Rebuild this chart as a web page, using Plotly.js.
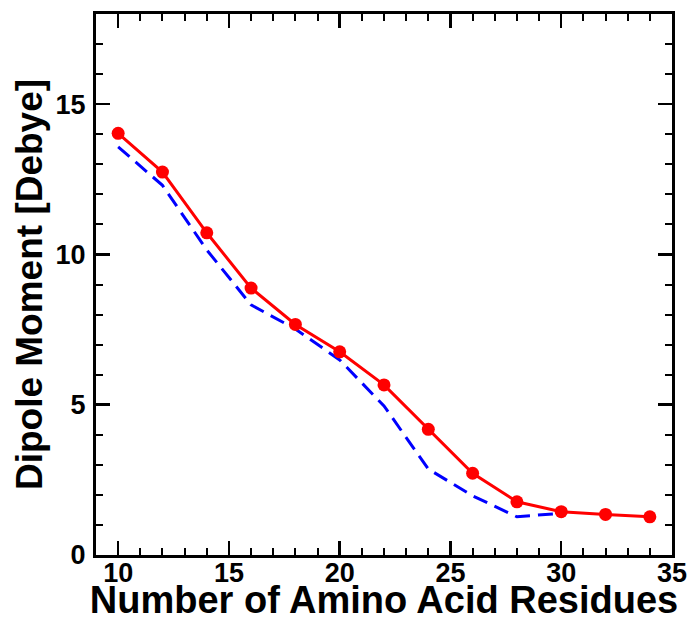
<!DOCTYPE html>
<html>
<head>
<meta charset="utf-8">
<script src="https://cdn.plot.ly/plotly-3.0.1.min.js"></script>
<style>html,body{margin:0;padding:0;background:#fff;}#chart{width:691px;height:621px;}</style>
</head>
<body>
<div id="chart"></div>
<script>
var residues = [10, 12, 14, 16, 18, 20, 22, 24, 26, 28, 30, 32, 34];
var dipoleRed = [14.03, 12.74, 10.72, 8.88, 7.67, 6.76, 5.66, 4.18, 2.72, 1.77, 1.44, 1.35, 1.27];
var residuesBlue = [10, 12, 14, 16, 18, 20, 22, 24, 26, 28, 30];
var dipoleBlue = [13.58, 12.3, 10.15, 8.32, 7.52, 6.49, 4.96, 2.86, 1.97, 1.27, 1.39];
var xTicks = [10, 15, 20, 25, 30, 35];
var yTicks = [0, 5, 10, 15];

var fontFam = 'Liberation Sans, Arial, Helvetica, sans-serif';

var traces = [
  {
    x: residuesBlue, y: dipoleBlue, type: 'scatter', mode: 'lines',
    line: {color: 'rgb(0,0,255)', width: 3, dash: '15px,8px'},
    hoverinfo: 'skip', showlegend: false
  },
  {
    x: residues, y: dipoleRed, type: 'scatter', mode: 'lines+markers',
    line: {color: 'rgb(255,0,0)', width: 3},
    marker: {color: 'rgb(255,0,0)', size: 13},
    showlegend: false
  }
];

var axisCommon = {
  showline: true, linecolor: '#000', linewidth: 3, mirror: 'allticks',
  ticks: 'inside', ticklen: 14, tickwidth: 2.5, tickcolor: '#000',
  showgrid: false, zeroline: false,
  tickfont: {family: fontFam, size: 27, color: '#000', weight: 'bold'},
  minor: {dtick: 1, ticks: 'inside', ticklen: 7, tickwidth: 2, tickcolor: '#000', showgrid: false}
};

var layout = {
  width: 691, height: 621,
  margin: {l: 96, r: 19, t: 14, b: 66},
  paper_bgcolor: '#fff', plot_bgcolor: '#fff',
  xaxis: Object.assign({}, axisCommon, {
    range: [9, 35], tickmode: 'array', tickvals: xTicks, ticktext: xTicks.map(String),
    ticklabelstandoff: -8,
    title: {text: 'Number of Amino Acid Residues', standoff: 6,
      font: {family: fontFam, size: 38, color: '#000', weight: 'bold'}}
  }),
  yaxis: Object.assign({}, axisCommon, {
    range: [0, 18], tickmode: 'array', tickvals: yTicks, ticktext: yTicks.map(String),
    ticklabelstandoff: 2,
    title: {text: 'Dipole Moment [Debye]', standoff: 2,
      font: {family: fontFam, size: 37, color: '#000', weight: 'bold'}}
  })
};

Plotly.newPlot('chart', traces, layout, {staticPlot: true, displayModeBar: false});
</script>
</body>
</html>
